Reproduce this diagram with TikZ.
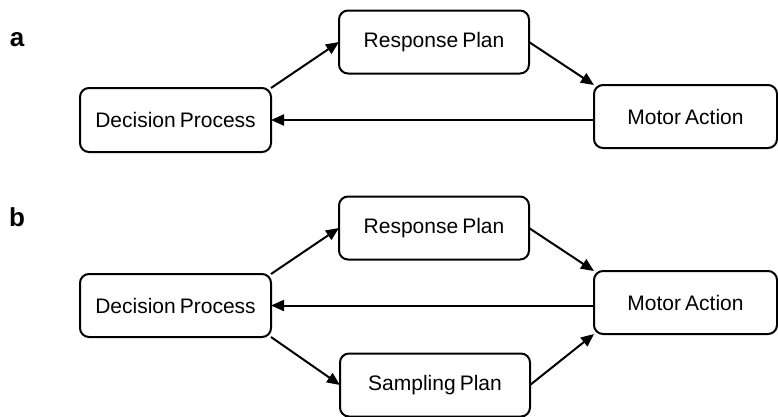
\documentclass[tikz,border=0pt]{standalone}
\usepackage{fontspec}
\setmainfont{Liberation Sans}[WordSpace=0.7]
\usetikzlibrary{arrows.meta}
\begin{document}
\begin{tikzpicture}[x=1pt,y=-1pt,
  box/.style={draw, line width=2pt, rounded corners=9pt, minimum width=190pt, minimum height=63pt, inner sep=0pt, outer sep=0pt, font=\fontsize{21}{25}\selectfont},
  arr/.style={line width=2pt, -{Triangle[length=13pt,width=11pt]}},
  lab/.style={font=\fontsize{26}{30}\selectfont\bfseries}]
\useasboundingbox (0,0) rectangle (778,416);
\clip (0,0) rectangle (778,416);
% panel a
\node[lab] (la) at (17,40) {a};
\node[box] (resa) at (434,42) {Response Plan};
\node[box, minimum width=191pt, minimum height=64pt] (deca) at (175.5,120) {Decision Process};
\node[box, minimum width=183pt] (mota) at (685.5,116.5) {Motor Action};
\draw[arr] (deca.north east) -- (resa.west);
\draw[arr] (resa.east) -- (mota.north west);
\draw[arr] (deca.east -| mota.west) -- (deca.east);
% panel b
\node[lab] (lb) at (17,217) {b};
\node[box] (resb) at (434,228) {Response Plan};
\node[box, minimum width=191pt] (decb) at (175.5,305.5) {Decision Process};
\node[box, minimum width=183pt] (motb) at (685.5,302.5) {Motor Action};
\node[box] (samp) at (435,385) {Sampling Plan};
\draw[arr] (decb.north east) -- (resb.west);
\draw[arr] (decb.south east) -- (samp.west);
\draw[arr] (resb.east) -- (motb.north west);
\draw[arr] (samp.east) -- (motb.south west);
\draw[arr] (decb.east -| motb.west) -- (decb.east);
\end{tikzpicture}
\end{document}
